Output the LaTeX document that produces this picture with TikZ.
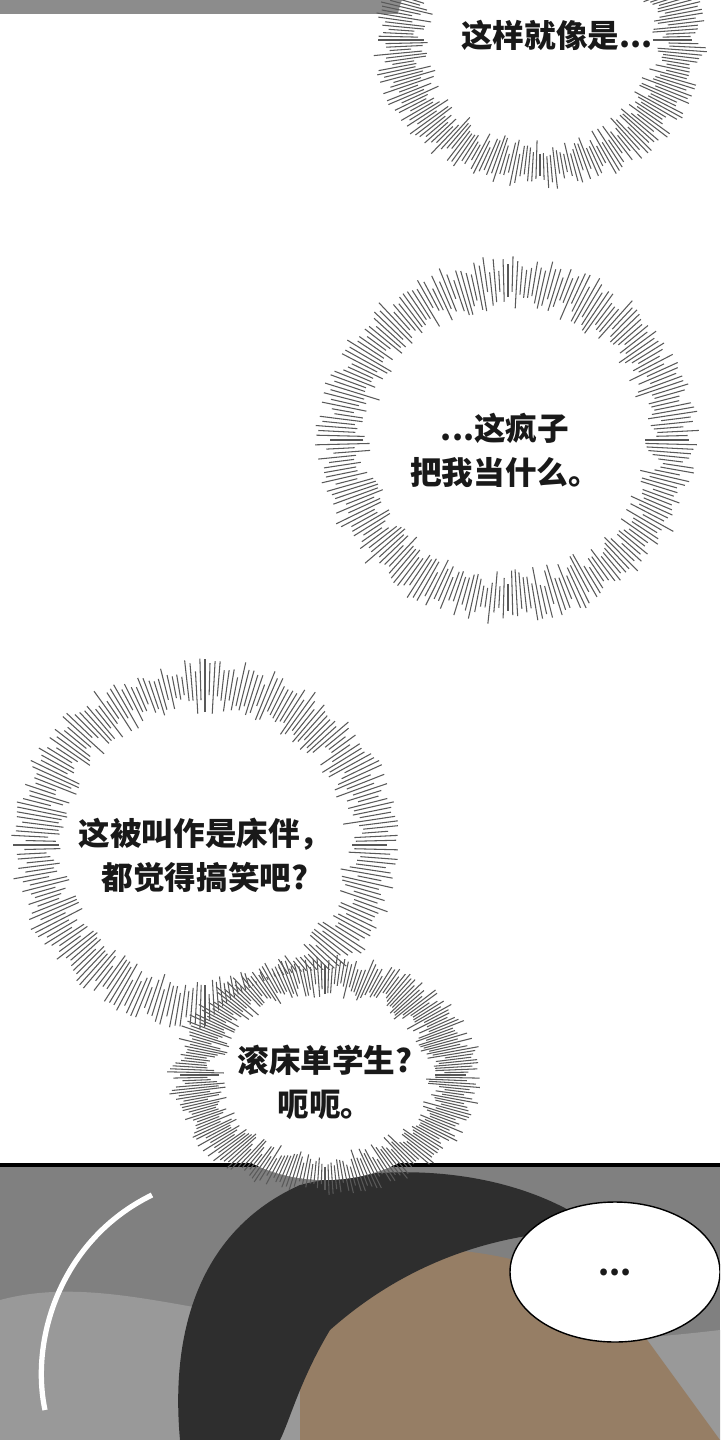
\documentclass[tikz,border=0pt]{standalone}
\usepackage{fontspec}
\newfontfamily\cjk{Noto Sans CJK SC}
\usetikzlibrary{shapes.geometric}
\tikzset{
  spike/.style={line width=0.3pt, black!65},
  words/.style={font=\cjk\bfseries\fontsize{9}{12.5}\selectfont, align=center, text=black!90},
}
% burst bubble: centre x, centre y, radius x, radius y
\newcommand\burstring[4]{
  \fill[white] (#1,#2) ellipse ({#3+5} and {#4+5});
  \pgfmathsetmacro\ratio{#4/#3}
  \foreach \a in {0,1.5,...,358.5}{
    \pgfmathsetmacro\lin{#3-8-22*rnd}
    \pgfmathsetmacro\lout{#3+10+18*rnd}
    \pgfmathsetmacro\kin{\lin*\ratio}
    \pgfmathsetmacro\kout{\lout*\ratio}
    \draw[spike] ({#1+\lin*cos(\a)},{#2+\kin*sin(\a)}) -- ({#1+\lout*cos(\a)},{#2+\kout*sin(\a)});
  }
}
\begin{document}
\begin{tikzpicture}[x=0.1mm,y=-0.1mm]
\pgfmathsetseed{7}
\useasboundingbox (0,0) rectangle (720,1440);
\clip (0,0) rectangle (720,1440);
\fill[white] (0,0) rectangle (720,1440);

% top strip
\fill[black!45] (0,0) rectangle (410,14);

% bottom panel
\fill[black!50] (0,1165) rectangle (720,1440);
\draw[black, line width=1pt] (0,1165) -- (720,1165);
\fill[black!40] (0,1300) .. controls (150,1260) and (300,1380) .. (720,1330) -- (720,1440) -- (0,1440) -- cycle;
\fill[brown!55!black!70] (300,1260) .. controls (450,1230) and (580,1260) .. (640,1330) -- (720,1440) -- (300,1440) -- cycle;
\fill[black!82] (180,1440) .. controls (170,1330) and (200,1230) .. (300,1185)
  .. controls (400,1160) and (520,1170) .. (600,1230)
  .. controls (520,1230) and (420,1250) .. (330,1330)
  .. controls (300,1380) and (290,1420) .. (280,1440) -- cycle;
\draw[white, line width=1.5pt] (152,1195) .. controls (60,1240) and (30,1340) .. (45,1410);

% bubbles
\burstring{540}{40}{140}{125}
\node[words] (b1) at (557,35) {这样就像是...};
\burstring{508}{440}{165}{158}
\node[words] (b2) at (505,450) {...这疯子\\把我当什么。};
\burstring{205}{845}{168}{160}
\node[words] (b3) at (205,855) {这被叫作是床伴，\\都觉得搞笑吧?};
\burstring{325}{1075}{130}{100}
\node[words] (b4) at (325,1082) {滚床单学生?\\呃呃。};

% speech bubble
\node[draw=black, fill=white, ellipse, minimum width=21mm, minimum height=14mm, inner sep=0] (sp) at (615,1272) {};
\node[words] at (sp) {...};
\end{tikzpicture}
\end{document}
